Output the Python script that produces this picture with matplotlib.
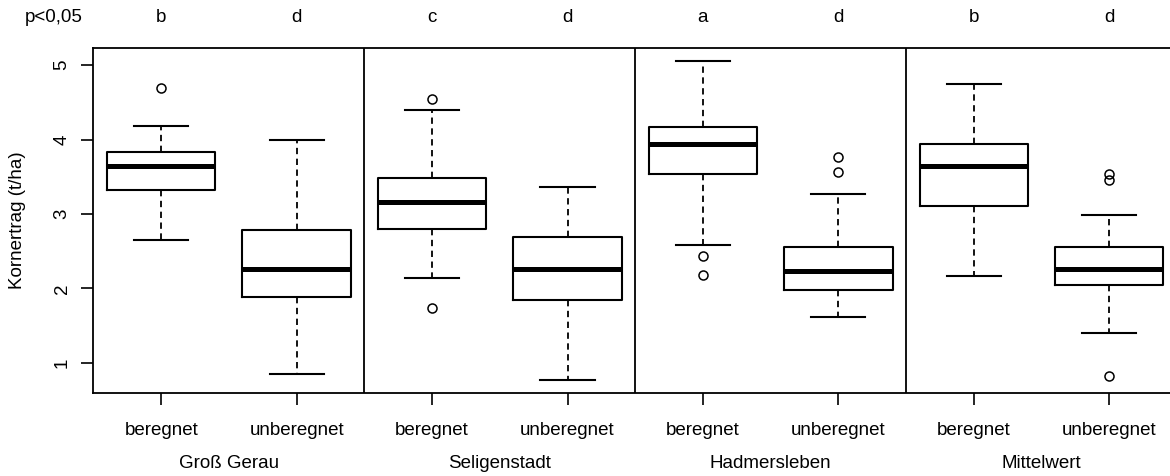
import matplotlib
matplotlib.use("Agg")
import matplotlib.pyplot as plt
from matplotlib import transforms

plt.rcParams['font.family'] = ['Liberation Sans', 'DejaVu Sans']

# Sites and treatments
sites = ["Groß Gerau", "Seligenstadt", "Hadmersleben", "Mittelwert"]
treatments = ["beregnet", "unberegnet"]
letters = ["b", "d", "c", "d", "a", "d", "b", "d"]

# Five-number summaries of grain yield (t/ha), one entry per box
whislo = [2.65, 0.85, 2.14, 0.77, 2.58, 1.62, 2.16, 1.40]
q1     = [3.32, 1.89, 2.80, 1.84, 3.54, 1.98, 3.10, 2.04]
med    = [3.65, 2.26, 3.16, 2.26, 3.94, 2.23, 3.65, 2.26]
q3     = [3.83, 2.78, 3.48, 2.69, 4.17, 2.56, 3.94, 2.55]
whishi = [4.18, 3.99, 4.40, 3.36, 5.06, 3.27, 4.74, 2.99]
fliers = [[4.69], [], [4.54, 1.74], [], [2.44, 2.18], [3.76, 3.56],
          [], [3.53, 3.46, 0.82]]

W, H = 1170, 476
fig = plt.figure(figsize=(W / 100, H / 100), dpi=100)
left, right, top, bottom = 93.5, 1177.0, 47.7, 393.3
ax = fig.add_axes([left / W, 1 - bottom / H, (right - left) / W, (bottom - top) / H])

stats = []
for i in range(len(med)):
    stats.append(dict(med=med[i], q1=q1[i], q3=q3[i], whislo=whislo[i],
                      whishi=whishi[i], fliers=fliers[i]))

positions = list(range(1, len(med) + 1))
ax.bxp(stats, positions=positions, widths=0.8, showfliers=True,
       boxprops=dict(color="black", linewidth=1.5),
       medianprops=dict(color="black", linewidth=3.6, solid_capstyle="butt"),
       whiskerprops=dict(color="black", linewidth=1.3, linestyle=(0, (3.5, 2.5))),
       capprops=dict(color="black", linewidth=1.5),
       capwidths=0.4,
       flierprops=dict(marker="o", markerfacecolor="none", markeredgecolor="black",
                       markersize=6.5, markeredgewidth=1.1))

# Separators between sites
for xs in [2.5, 4.5, 6.5]:
    ax.axvline(xs, color="black", linewidth=1.3)

ax.set_xlim(0.5, 8.5)
ax.set_ylim(0.589, 5.234)
ax.set_yticks([1, 2, 3, 4, 5])
ax.set_yticklabels(["1", "2", "3", "4", "5"], rotation=90, va="center")
ax.set_xticks(positions)
ax.set_xticklabels(treatments * len(sites))
ax.tick_params(axis="both", direction="out", length=8.5, width=1.2,
               labelsize=13.5, colors="black")
ax.tick_params(axis="x", pad=12)
ax.tick_params(axis="y", pad=8)
for sp in ax.spines.values():
    sp.set_linewidth(1.3)
    sp.set_color("black")

ax.set_ylabel("Kornertrag (t/ha)", fontsize=13.5)
ax.yaxis.set_label_coords(-(left - 26) / (right - left), 0.5)

# Site names under each pair
trans = transforms.blended_transform_factory(ax.transData, fig.transFigure)
for k, site in enumerate(sites):
    ax.text(2 * k + 1.5, 1 - 464 / H, site, transform=trans, ha="center",
            va="center", fontsize=13.5)

# Significance letters above each box
for p, lt in zip(positions, letters):
    ax.text(p, 1 - 18 / H, lt, transform=trans, ha="center", va="center",
            fontsize=13.5)
fig.text(54 / W, 1 - 18 / H, "p<0,05", ha="center", va="center", fontsize=13.5)

fig.savefig("out.png", dpi=100, facecolor="white")
